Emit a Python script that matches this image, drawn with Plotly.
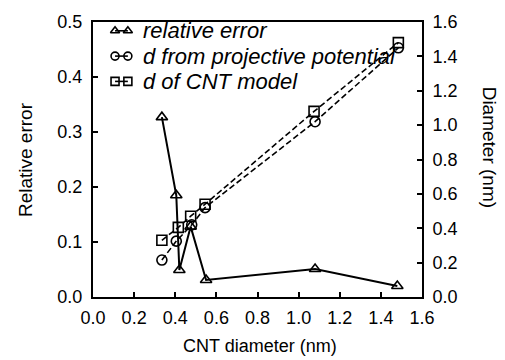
import plotly.graph_objects as go

# CNT diameter (nm) vs relative error
err_x = [0.335, 0.405, 0.42, 0.475, 0.55, 1.08, 1.48]
err_y = [0.327, 0.185, 0.049, 0.128, 0.031, 0.051, 0.020]

# diameter obtained from the projective potential
proj_x = [0.335, 0.405, 0.48, 0.545, 1.08, 1.485]
proj_d = [0.215, 0.325, 0.42, 0.52, 1.02, 1.45]

# diameter of the CNT model
model_x = [0.335, 0.415, 0.475, 0.545, 1.075, 1.485]
model_d = [0.33, 0.405, 0.47, 0.54, 1.08, 1.48]

legend_names = ["relative error", "d from projective potential", "d of CNT model"]
legend_symbols = ["triangle-up-open", "circle-open", "square-open"]

x_ticks = [0.0, 0.2, 0.4, 0.6, 0.8, 1.0, 1.2, 1.4, 1.6]
left_ticks = [0.0, 0.1, 0.2, 0.3, 0.4, 0.5]
right_ticks = [0.0, 0.2, 0.4, 0.6, 0.8, 1.0, 1.2, 1.4, 1.6]

FONT = "Liberation Sans, Arial, Helvetica, sans-serif"
BLACK = "#000000"
DASH = "6px,3px"

fig = go.Figure()

fig.add_trace(go.Scatter(
    x=err_x, y=err_y, mode="lines+markers", yaxis="y",
    line=dict(color=BLACK, width=2, dash="solid"),
    marker=dict(symbol="triangle-up-open", size=10, color=BLACK, line=dict(width=1.6)),
    showlegend=False,
))
fig.add_trace(go.Scatter(
    x=proj_x, y=proj_d, mode="lines+markers", yaxis="y2",
    line=dict(color=BLACK, width=1.6, dash=DASH),
    marker=dict(symbol="circle-open", size=10, color=BLACK, line=dict(width=1.6)),
    showlegend=False,
))
fig.add_trace(go.Scatter(
    x=model_x, y=model_d, mode="lines+markers", yaxis="y2",
    line=dict(color=BLACK, width=1.6, dash=DASH),
    marker=dict(symbol="square-open", size=10, color=BLACK, line=dict(width=1.6)),
    showlegend=False,
))

# legend keys: a short line with two markers, drawn on a unit overlay axis
key_rows = [0.968, 0.876, 0.784]
for name, sym, ry in zip(legend_names, legend_symbols, key_rows):
    fig.add_trace(go.Scatter(
        x=[0.067, 0.106], y=[ry, ry], mode="lines+markers",
        xaxis="x3", yaxis="y3",
        line=dict(color=BLACK, width=1.6, dash="solid"),
        marker=dict(symbol=sym, size=8, color=BLACK, line=dict(width=1.6)),
        showlegend=False, hoverinfo="skip",
    ))
    fig.add_annotation(
        x=0.145, y=ry, xref="paper", yref="paper", text=name,
        showarrow=False, xanchor="left", yanchor="middle",
        font=dict(family=FONT, size=22, color=BLACK, style="italic"),
    )

axis_common = dict(
    showline=True, linecolor=BLACK, linewidth=2,
    ticks="inside", ticklen=5, tickwidth=1.5, tickcolor=BLACK,
    showgrid=False, zeroline=False,
    tickfont=dict(family=FONT, size=18, color=BLACK),
)

fig.update_layout(
    width=505, height=360,
    margin=dict(l=93, r=83, t=15, b=63),
    paper_bgcolor="white", plot_bgcolor="white",
    xaxis=dict(range=[0, 1.6], tickvals=x_ticks, tickformat=".1f",
               mirror=True, ticklabelstandoff=3, **axis_common),
    yaxis=dict(range=[0, 0.5], tickvals=left_ticks, tickformat=".1f",
               ticklabelstandoff=5, **axis_common),
    yaxis2=dict(range=[0, 1.6], tickvals=right_ticks, tickformat=".1f",
                overlaying="y", side="right", ticklabelstandoff=5, **axis_common),
    xaxis3=dict(range=[0, 1], domain=[0, 1], overlaying="x", visible=False),
    yaxis3=dict(range=[0, 1], domain=[0, 1], overlaying="y", visible=False),
    showlegend=False,
)

fig.add_annotation(x=0.508, y=-0.177, xref="paper", yref="paper", text="CNT diameter (nm)",
                   showarrow=False, xanchor="center", yanchor="middle",
                   font=dict(family=FONT, size=18, color=BLACK))
fig.add_annotation(x=-0.205, y=0.5, xref="paper", yref="paper", text="Relative error",
                   showarrow=False, textangle=-90, xanchor="center", yanchor="middle",
                   font=dict(family=FONT, size=19, color=BLACK))
fig.add_annotation(x=1.205, y=0.545, xref="paper", yref="paper", text="Diameter (nm)",
                   showarrow=False, textangle=90, xanchor="center", yanchor="middle",
                   font=dict(family=FONT, size=19, color=BLACK))

fig.write_html("out.html")
